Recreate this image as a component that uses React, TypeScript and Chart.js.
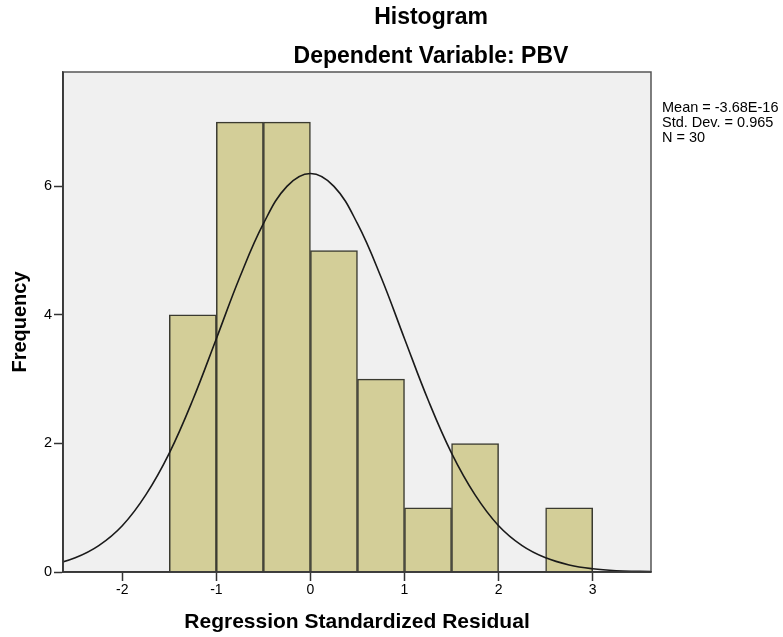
import React, { useEffect, useRef } from "react";
import { Chart, registerables } from "chart.js";

Chart.register(...registerables);

// Histogram bins (width 0.5)
const binCenters = [-1.25, -0.75, -0.25, 0.25, 0.75, 1.25, 1.75, 2.25, 2.75];
const frequencies = [4, 7, 7, 5, 3, 1, 2, 0, 1];

// Normal curve
const curveX = [-2.75, -2.5, -2.25, -2.0, -1.75, -1.5, -1.25, -1.0, -0.75, -0.5, -0.25, 0, 0.25, 0.5, 0.75, 1.0, 1.25, 1.5, 1.75, 2.0, 2.25, 2.5, 2.75, 3.0, 3.25, 3.5, 3.75];
const curveY = [0.11, 0.22, 0.41, 0.72, 1.2, 1.85, 2.68, 3.63, 4.59, 5.42, 6.0, 6.2, 6.0, 5.42, 4.59, 3.63, 2.68, 1.85, 1.2, 0.72, 0.41, 0.22, 0.11, 0.05, 0.02, 0.01, 0.0];

const titleLines = ["Histogram", "Dependent Variable: PBV"];
const statsLines = ["Mean = -3.68E-16", "Std. Dev. = 0.965", "N = 30"];
const xTitle = "Regression Standardized Residual";
const yTitle = "Frequency";

const FONT = "'Liberation Sans', Arial, sans-serif";

const decorPlugin = {
  id: "decor",
  beforeDraw(chart: any) {
    const { ctx, chartArea: a } = chart;
    ctx.save();
    ctx.fillStyle = "#ffffff";
    ctx.fillRect(0, 0, chart.width, chart.height);
    ctx.fillStyle = "#f0f0f0";
    ctx.fillRect(a.left, a.top, a.right - a.left, a.bottom - a.top);
    ctx.restore();
  },
  afterDraw(chart: any) {
    const { ctx, chartArea: a } = chart;
    ctx.save();
    ctx.strokeStyle = "#555555";
    ctx.lineWidth = 1.5;
    ctx.strokeRect(a.left, a.top, a.right - a.left, a.bottom - a.top);
    ctx.strokeStyle = "#333333";
    ctx.beginPath();
    ctx.moveTo(a.left, a.top);
    ctx.lineTo(a.left, a.bottom);
    ctx.lineTo(a.right, a.bottom);
    ctx.stroke();

    ctx.fillStyle = "#000000";
    ctx.textAlign = "center";
    ctx.textBaseline = "alphabetic";
    ctx.font = `bold 23px ${FONT}`;
    ctx.fillText(titleLines[0], 431, 24);
    ctx.fillText(titleLines[1], 431, 63);

    ctx.textAlign = "left";
    ctx.font = `14.5px ${FONT}`;
    const baselines = [112, 127, 142];
    statsLines.forEach((s, i) => ctx.fillText(s, 662, baselines[i]));
    ctx.restore();
  },
};

export default function App() {
  const ref = useRef<HTMLCanvasElement | null>(null);
  useEffect(() => {
    if (!ref.current) return;
    const chart = new Chart(ref.current, {
      type: "bar",
      data: {
        datasets: [
          {
            type: "line",
            data: curveX.map((x, i) => ({ x, y: curveY[i] })),
            borderColor: "#1a1a1a",
            borderWidth: 1.6,
            pointRadius: 0,
            tension: 0.4,
            fill: false,
            order: 0,
            clip: { left: 0, right: 0, top: 0, bottom: 2 },
          } as any,
          {
            type: "bar",
            data: binCenters.map((x, i) => ({ x, y: frequencies[i] })),
            backgroundColor: "#d3ce98",
            borderColor: "#3a3a30",
            borderWidth: 1.5,
            barPercentage: 1,
            categoryPercentage: 1,
            order: 1,
          } as any,
        ],
      },
      options: {
        animation: false,
        responsive: true,
        maintainAspectRatio: false,
        layout: { padding: { top: 72, right: 132, left: 0, bottom: 0 } },
        plugins: { legend: { display: false }, tooltip: { enabled: false }, title: { display: false } },
        scales: {
          x: {
            type: "linear",
            min: -2.63,
            max: 3.62,
            offset: false,
            afterFit: (s: any) => { s.height = 65; },
            ticks: { stepSize: 1, includeBounds: false, color: "#000", font: { family: FONT, size: 14 }, padding: 1, maxRotation: 0 },
            grid: { offset: false, drawOnChartArea: false, drawTicks: true, tickLength: 9, color: "#333", tickWidth: 1.5 },
            border: { display: true, color: "#333", width: 1.5 },
            title: { display: true, text: xTitle, color: "#000", font: { family: FONT, size: 21, weight: "bold" }, padding: { top: 0, bottom: 2 } },
          },
          y: {
            type: "linear",
            min: 0,
            max: 7.78,
            afterFit: (s: any) => { s.width = 63; },
            ticks: { stepSize: 2, includeBounds: false, color: "#000", font: { family: FONT, size: 14.5 }, padding: 2 },
            grid: { offset: false, drawOnChartArea: false, drawTicks: true, tickLength: 9, color: "#333", tickWidth: 1.5 },
            border: { display: true, color: "#333", width: 1.5 },
            title: { display: true, text: yTitle, color: "#000", font: { family: FONT, size: 20, weight: "bold" }, padding: { top: 8, bottom: 0 } },
          },
        },
      },
      plugins: [decorPlugin],
    } as any);
    return () => chart.destroy();
  }, []);
  return (
    <div style={{ position: "fixed", left: 0, top: 0, width: 783, height: 637 }}>
      <canvas ref={ref} />
    </div>
  );
}
